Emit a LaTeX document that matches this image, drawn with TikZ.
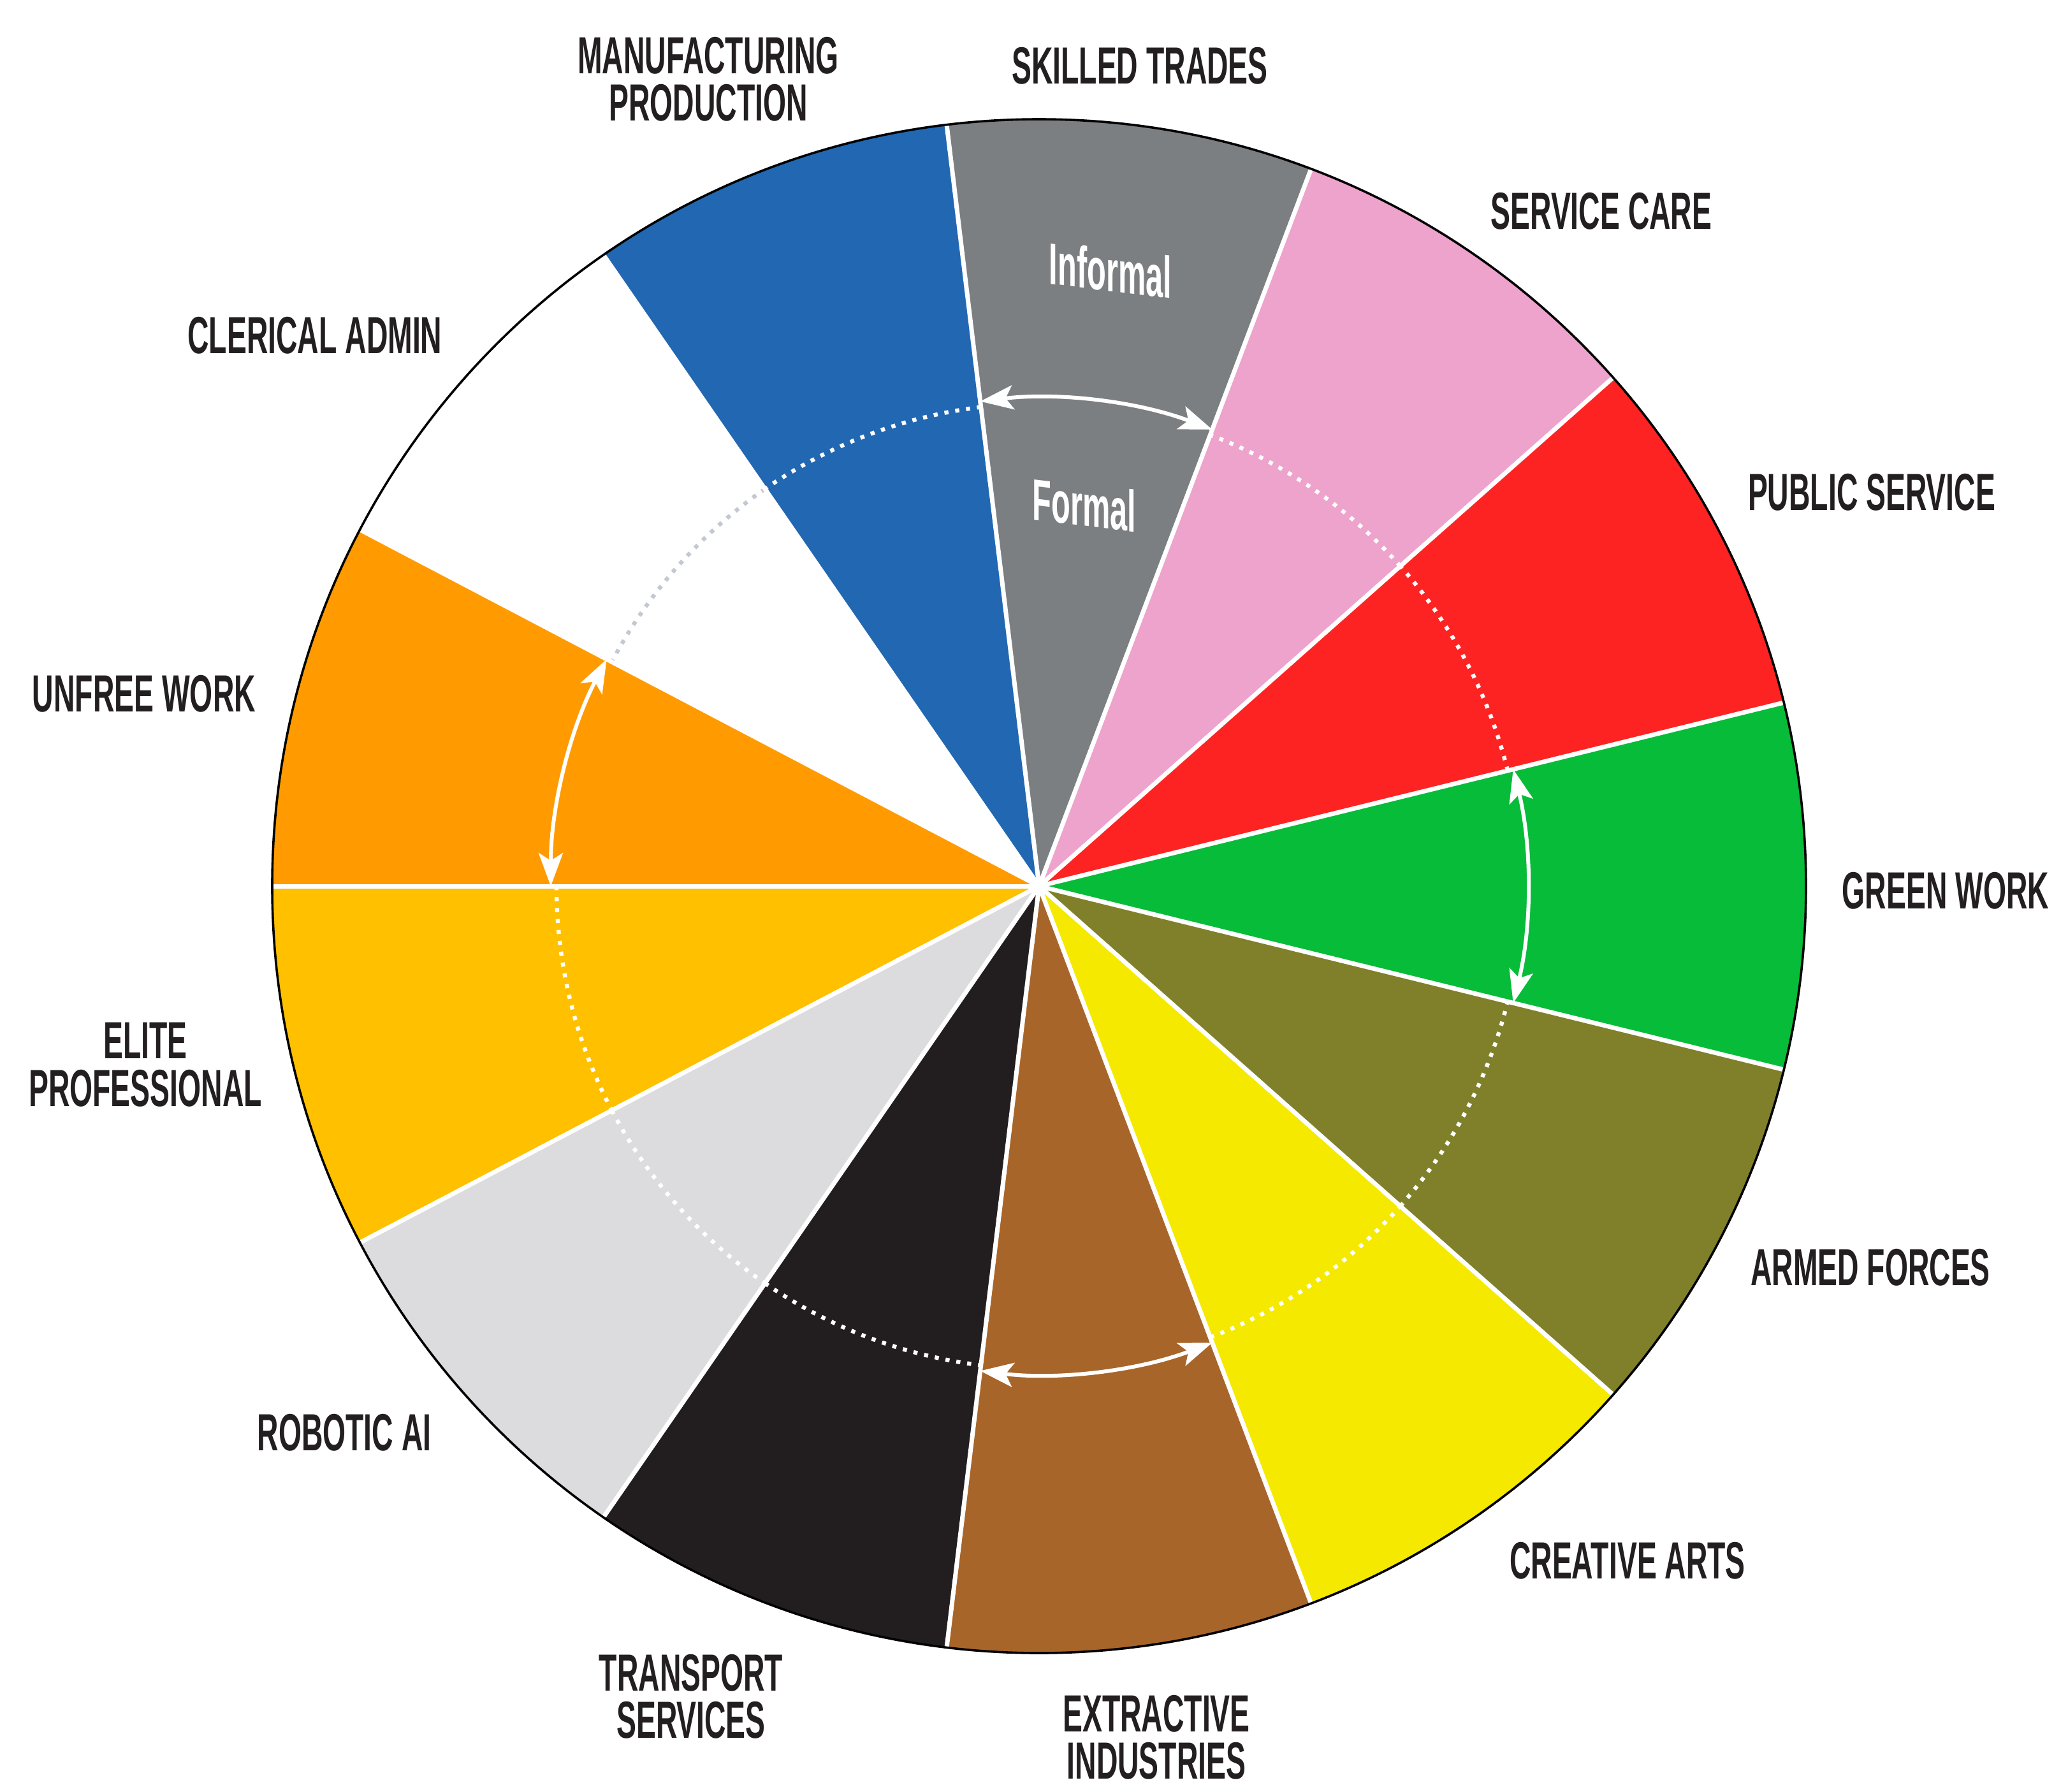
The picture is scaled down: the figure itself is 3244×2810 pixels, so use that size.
\documentclass[tikz,border=0pt]{standalone}
\usepackage{fontspec}
\setmainfont{Liberation Sans}[FakeStretch=0.565]
\newfontfamily\condfont{Liberation Sans}[FakeStretch=0.53]
\usetikzlibrary{arrows.meta}
\definecolor{corange}{HTML}{FF9B00}
\definecolor{camber}{HTML}{FFC000}
\definecolor{cblue}{HTML}{2167B2}
\definecolor{cgray}{HTML}{7C7F82}
\definecolor{cpink}{HTML}{EDA3CB}
\definecolor{cred}{HTML}{FE2323}
\definecolor{cgreen}{HTML}{07BC38}
\definecolor{colive}{HTML}{7F8029}
\definecolor{cyellow}{HTML}{F5E900}
\definecolor{cbrown}{HTML}{A8652A}
\definecolor{cblack}{HTML}{221E1F}
\definecolor{clight}{HTML}{DCDCDE}
\definecolor{dotgray}{HTML}{C4C8D0}
\definecolor{labelc}{HTML}{231F20}
\begin{document}
\begin{tikzpicture}[x=0.25pt,y=0.25pt,
  lbl/.style={font=\bfseries\fontsize{20.5}{18.6}\selectfont, align=center, inner sep=0pt, text=labelc},
  sep/.style={white, line width=1.75pt},
  dots/.style={line width=1.6pt, dash pattern=on 1.6pt off 2.7pt},
  dbl/.style={white, line width=1.5pt, {Stealth[length=13pt,width=9.5pt,inset=3pt]}-{Stealth[length=13pt,width=9.5pt,inset=3pt]}},
  inlbl/.style={font=\condfont\bfseries\fontsize{23}{23}\selectfont, text=white, inner sep=0pt, yslant=-0.121, transform shape}
]
\fill[white] (-1630,-1420) rectangle (1614,1390);
\useasboundingbox (-1630,-1420) rectangle (1614,1390);
\def\R{300.75pt}
\def\Rd{189.25pt}
\def\Ra{191.5pt}
% sectors
\foreach \a/\b/\c in {152.3077/180/corange, 124.6154/152.3077/white, 96.9231/124.6154/cblue,
  69.2308/96.9231/cgray, 41.5385/69.2308/cpink, 13.8462/41.5385/cred, -13.8462/13.8462/cgreen,
  -41.5385/-13.8462/colive, -69.2308/-41.5385/cyellow, -96.9231/-69.2308/cbrown,
  -124.6154/-96.9231/cblack, -152.3077/-124.6154/clight, -180/-152.3077/camber}
  \fill[\c] (0,0) -- (\a:\R) arc[start angle=\a, end angle=\b, radius=\R] -- cycle;
% dotted circle
\foreach \a/\b/\c in {124.6154/152.3077/dotgray, 96.9231/124.6154/white, 41.5385/69.2308/white,
  13.8462/41.5385/white, -41.5385/-13.8462/white, -69.2308/-41.5385/white,
  -124.6154/-96.9231/white, -152.3077/-124.6154/white, -180/-152.3077/white}
  \draw[dots, \c] (\a:\Rd) arc[start angle=\a, end angle=\b, radius=\Rd];
% separators
\foreach \k in {0,...,12}
  \draw[sep] (0,0) -- ({180-\k*360/13}:\R);
% arrows
\draw[dbl] (96.9231:\Ra) arc[start angle=96.9231, end angle=69.2308, radius=\Ra];
\draw[dbl] (-96.9231:\Ra) arc[start angle=-96.9231, end angle=-69.2308, radius=\Ra];
\draw[dbl] (13.8462:\Ra) arc[start angle=13.8462, end angle=-13.8462, radius=\Ra];
\draw[dbl] (152.3077:\Ra) arc[start angle=152.3077, end angle=180, radius=\Ra];
% outline
\draw[black, line width=0.9pt] (0,0) circle[radius=\R];
% inner labels
\node[inlbl] (informal) at (112,966) {Informal};
\node[inlbl] (formal) at (71,598) {Formal};
% outer labels
\node[lbl] (manu) at (-519,1266) {MANUFACTURING\\PRODUCTION};
\node[lbl] (skill) at (158,1287) {SKILLED TRADES};
\node[lbl] (serv) at (882,1059) {SERVICE CARE};
\node[lbl] (pub) at (1306,618) {PUBLIC SERVICE};
\node[lbl] (green) at (1422,-7) {GREEN WORK};
\node[lbl] (armed) at (1304,-598) {ARMED FORCES};
\node[lbl] (creat) at (923,-1058) {CREATIVE ARTS};
\node[lbl] (extr) at (184,-1335) {EXTRACTIVE\\INDUSTRIES};
\node[lbl] (trans) at (-546,-1271) {TRANSPORT\\SERVICES};
\node[lbl] (robot) at (-1090,-857) {ROBOTIC AI};
\node[lbl] (elite) at (-1402,-280) {ELITE\\PROFESSIONAL};
\node[lbl] (unfree) at (-1404,302) {UNFREE WORK};
\node[lbl] (cleric) at (-1136,864) {CLERICAL ADMIN};
\end{tikzpicture}
\end{document}
